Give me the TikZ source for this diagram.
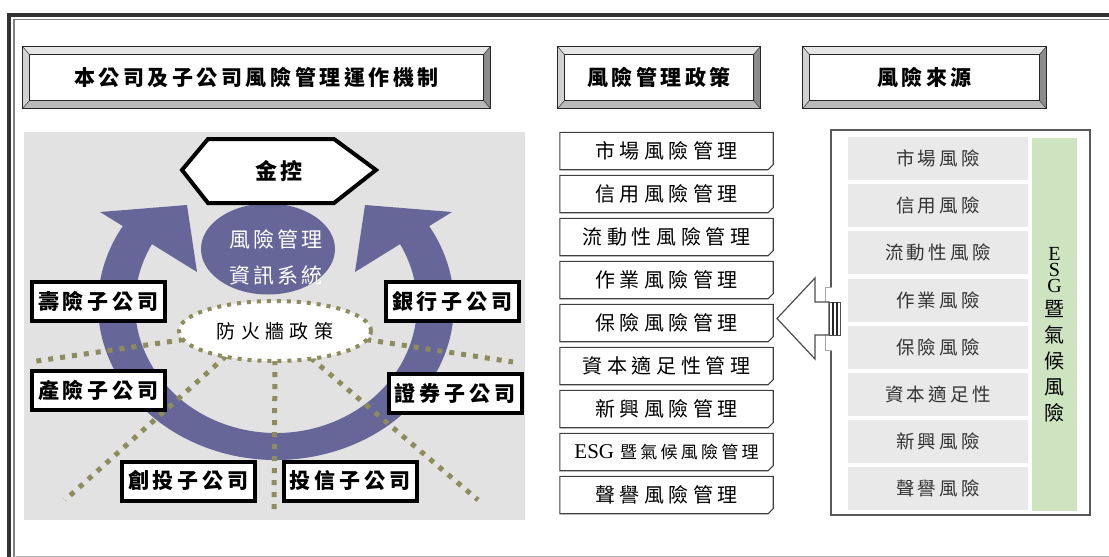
\documentclass[tikz,border=0pt]{standalone}
\usepackage{fontspec}
\setmainfont{Noto Sans CJK TC}
\newfontfamily\lser{Liberation Serif}
\usetikzlibrary{calc,shapes.geometric}
\definecolor{purp}{RGB}{102,102,153}
\definecolor{olivedot}{RGB}{140,140,92}
\definecolor{bgray}{RGB}{226,226,226}
\definecolor{cellgray}{RGB}{233,233,233}
\definecolor{esggreen}{RGB}{206,227,192}
\definecolor{framedark}{RGB}{51,51,51}
\newcommand\lsp[2]{{\addfontfeature{LetterSpace=#1}#2}}
\newcommand\bevelfr[1]{%
\fill[black!10] ($(#1.north west)+(-7,-8)$) -- ($(#1.north east)+(7,-8)$) -- (#1.north east) -- (#1.north west) -- cycle;
\fill[black!18] ($(#1.north west)+(-7,-8)$) -- (#1.north west) -- (#1.south west) -- ($(#1.south west)+(-7,8)$) -- cycle;
\fill[black!45] ($(#1.north east)+(7,-8)$) -- (#1.north east) -- (#1.south east) -- ($(#1.south east)+(7,8)$) -- cycle;
\fill[black!27] ($(#1.south west)+(-7,8)$) -- (#1.south west) -- (#1.south east) -- ($(#1.south east)+(7,8)$) -- cycle;
\draw[black!80,line width=0.5] ($(#1.north west)+(-7,-8)$) -- (#1.north west) ($(#1.north east)+(7,-8)$) -- (#1.north east) ($(#1.south west)+(-7,8)$) -- (#1.south west) ($(#1.south east)+(7,8)$) -- (#1.south east);
\draw[black!85,line width=0.9] ($(#1.north west)+(-7,-8)$) rectangle ($(#1.south east)+(7,8)$);
\draw[black!85,line width=0.9] (#1.north west) rectangle (#1.south east);}
\begin{document}
\begin{tikzpicture}[x=1pt,y=-1pt,
  head/.style={inner sep=0pt,minimum height=45pt,font=\fontsize{21}{21}\selectfont\bfseries},
  sub/.style={draw=black,line width=4pt,fill=white,minimum width=133pt,minimum height=39pt,inner sep=0pt,font=\fontsize{21}{21}\selectfont\bfseries},
  pol/.style={minimum width=213pt,minimum height=37pt,inner sep=0pt,font=\fontsize{20}{20}\selectfont},
  polline/.style={draw=black!75,line width=1.1pt,line join=miter},
  cell/.style={fill=cellgray,minimum width=180pt,minimum height=43pt,inner sep=0pt,text=black!80,font=\fontsize{18.5}{18.5}\selectfont},
  dots/.style={olivedot,line width=5pt,dash pattern=on 5pt off 7pt}]
\fill[white] (0,0) rectangle (1109,557);
\useasboundingbox (0,0) rectangle (1109,557);
% outer frame
\draw[framedark,line width=3.5pt,line join=miter] (9,557) -- (9,15) -- (1109,15);
\draw[black!50,line width=1.8pt,line join=miter] (13.7,557) -- (13.7,19.5) -- (1109,19.5);
\draw[black!30,line width=1pt] (13.7,556) -- (1109,556);
% headers
\node[head,minimum width=453pt] (h1) at (256.5,77.5) {\lsp{17}{本公司及子公司風險管理運作機制}};
\bevelfr{h1}
\node[head,minimum width=188pt] (h2) at (659,77.5) {\lsp{17}{風險管理政策}};
\bevelfr{h2}
\node[head,minimum width=229pt] (h3) at (924.5,77.5) {\lsp{17}{風險來源}};
\bevelfr{h3}
% left panel
\fill[bgray] (24,132) rectangle (525,520);
\coordinate (C) at (276,305);
\fill[purp] ($(C)+(212:178 and 155)$) arc[start angle=212,end angle=-32,x radius=178,y radius=155]
  -- ($(C)+(-32:141 and 128)$) arc[start angle=-32,end angle=212,x radius=141,y radius=128] -- cycle;
\fill[purp] (100,212) -- (187,205) -- (197,272) -- cycle;
\fill[purp] (452,212) -- (365,205) -- (355,272) -- cycle;
\node[ellipse,fill=purp,minimum width=134pt,minimum height=91pt,inner sep=0pt] (is) at (268,249) {};
\node[text=white,align=center,inner sep=0pt,font=\fontsize{21}{36}\selectfont] (ist) at (276,257) {\lsp{14}{風險管理}\\\lsp{14}{資訊系統}};
\draw[line width=4pt,fill=white,line join=miter] (182,170) -- (208,139) -- (334,139) -- (376,170) -- (334,203) -- (208,203) -- cycle;
\node[inner sep=0pt,font=\fontsize{22}{22}\selectfont\bfseries] (kh) at (279,171) {\lsp{14}{金控}};
% firewall
\node[ellipse,minimum width=192pt,minimum height=60pt,inner sep=0pt] (fw) at (275,330) {};
\coordinate (eL) at (30,362);
\coordinate (eR) at (513,362);
\coordinate (eLL) at (65,500);
\coordinate (eB) at (274,515);
\coordinate (eRR) at (478,500);
\draw[dots] (fw.186) -- (eL);
\draw[dots] (fw.-6) -- (eR);
\draw[dots] (fw.208) -- (eLL);
\draw[dots] (fw.south) -- (eB);
\draw[dots] (fw.322) -- (eRR);
\node[ellipse,draw=olivedot,line width=4pt,dash pattern=on 4pt off 6pt,fill=white,minimum width=192pt,minimum height=60pt,inner sep=0pt,font=\fontsize{19}{19}\selectfont] (fwt) at (275,331) {\lsp{28}{防火牆政策}};
% subsidiaries
\node[sub] (s1) at (98.5,301.5) {\lsp{19}{壽險子公司}};
\node[sub] (s2) at (452.5,301.5) {\lsp{19}{銀行子公司}};
\node[sub] (s3) at (98.5,390) {\lsp{19}{產險子公司}};
\node[sub] (s4) at (455,393.5) {\lsp{19}{證券子公司}};
\node[sub] (s5) at (188.5,481) {\lsp{19}{創投子公司}};
\node[sub] (s6) at (350,481) {\lsp{19}{投信子公司}};
% policies
\foreach \i/\t in {1/{\lsp{23}{市場風險管理}},2/{\lsp{23}{信用風險管理}},3/{\lsp{23}{流動性風險管理}},4/{\lsp{23}{作業風險管理}},5/{\lsp{23}{保險風險管理}},6/{\lsp{23}{資本適足性管理}},7/{\lsp{23}{新興風險管理}},8/{{\lser\fontsize{21}{21}\selectfont ESG}\hspace{6pt}{\fontsize{17}{17}\selectfont\lsp{19}{暨氣候風險管理}}},9/{\lsp{23}{聲譽風險管理}}}{
  \node[pol] (p\i) at (666.5,108+43*\i) {\t};
  \draw[polline] (p\i.north west) -- (p\i.north east) -- ($(p\i.south east)+(0,-5)$) -- ($(p\i.south east)+(-5,0)$) -- (p\i.south west) -- cycle;
}
% sources
\node[draw=black!65,line width=1.5pt,minimum width=259pt,minimum height=385pt,inner sep=0pt] (rbox) at (960.5,322.5) {};
\foreach \i/\t in {1/市場風險,2/信用風險,3/流動性風險,4/作業風險,5/保險風險,6/資本適足性,7/新興風險,8/聲譽風險}{
  \node[cell] (r\i) at (938,111.3+47.2*\i) {\lsp{18}{\t}};
}
\node[fill=esggreen,minimum width=45pt,minimum height=373pt,inner sep=0pt] (esg) at (1054.5,324.5) {};
\node[align=center,inner sep=0pt,font=\fontsize{20}{26}\selectfont] (esgt) at (1054.5,335) {{\lser\fontsize{20}{20}\selectfont E}\\[-10pt]{\lser\fontsize{20}{20}\selectfont S}\\[-10pt]{\lser\fontsize{20}{20}\selectfont G}\\[-2pt]暨\\氣\\候\\風\\險};
% block arrow
\fill[white] (825,287) rectangle (834,350);
\draw[black!35,line width=0.8pt] (832,287) -- (825,287) -- (825,350) -- (832,350);
\draw[black!70,line width=1.2pt,fill=white,line join=miter] (777,318.5) -- (815,278) -- (815,302) -- (829,302) -- (829,335) -- (815,335) -- (815,359) -- cycle;
\draw[black!70,line width=0.8pt,fill=white] (829,302) rectangle (840.5,335);
\draw[black!85,line width=1.8pt] (832.8,302) -- (832.8,335) (836.8,302) -- (836.8,335);
\end{tikzpicture}
\end{document}
